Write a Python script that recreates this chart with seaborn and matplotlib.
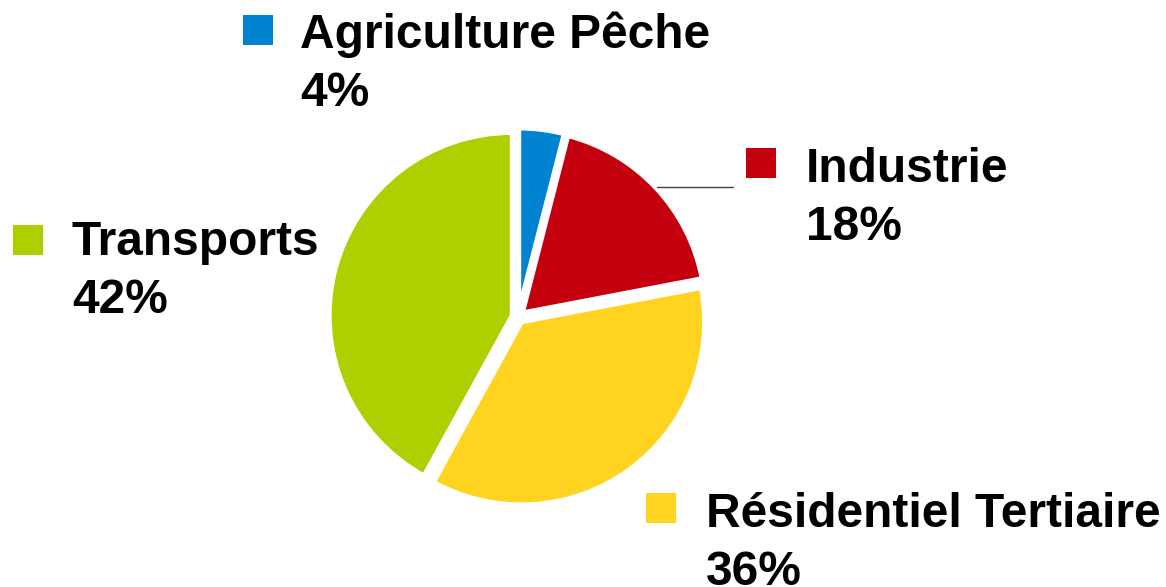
import matplotlib.pyplot as plt
import seaborn as sns

sectors = ["Agriculture Pêche", "Industrie", "Résidentiel Tertiaire", "Transports"]
shares = [4, 18, 36, 42]
colors = ["#0084D1", "#C4000F", "#FFD320", "#AFCF00"]

sns.set_theme(style="white")
plt.rcParams["font.family"] = ["Liberation Sans", "DejaVu Sans"]

W, H = 1166, 587
fig = plt.figure(figsize=(W / 100, H / 100), dpi=100)
ax = fig.add_axes([0, 0, 1, 1])

# pie in pixel units (y up)
ax.pie(shares, colors=colors, startangle=90, counterclock=False,
       center=(518, H - 317), radius=183, explode=[6] * 4,
       wedgeprops=dict(edgecolor="white", linewidth=3.5))
ax.set_xlim(0, W)
ax.set_ylim(0, H)
ax.set_aspect("equal")
ax.axis("off")

# labels: (square left, square top, text left, first baseline) in image px
label_pos = [(243, 15, 300, 48), (746, 148, 806, 182),
             (646, 493, 706, 527), (13, 225, 72, 255)]

for name, val, col, (sx, sy, tx, ty) in zip(sectors, shares, colors, label_pos):
    ax.add_patch(plt.Rectangle((sx, H - sy - 30), 30, 30, color=col, lw=0))
    ax.text(tx, H - ty, name, fontsize=34.5, fontweight="bold", color="black",
            va="baseline", ha="left")
    ax.text(tx, H - ty - 58, f"{val}%", fontsize=34.5, fontweight="bold", color="black",
            va="baseline", ha="left")

# leader line for Industrie
ax.plot([657, 733], [H - 187, H - 187], color="#444444", lw=1)

fig.savefig("out.png", dpi=100)
